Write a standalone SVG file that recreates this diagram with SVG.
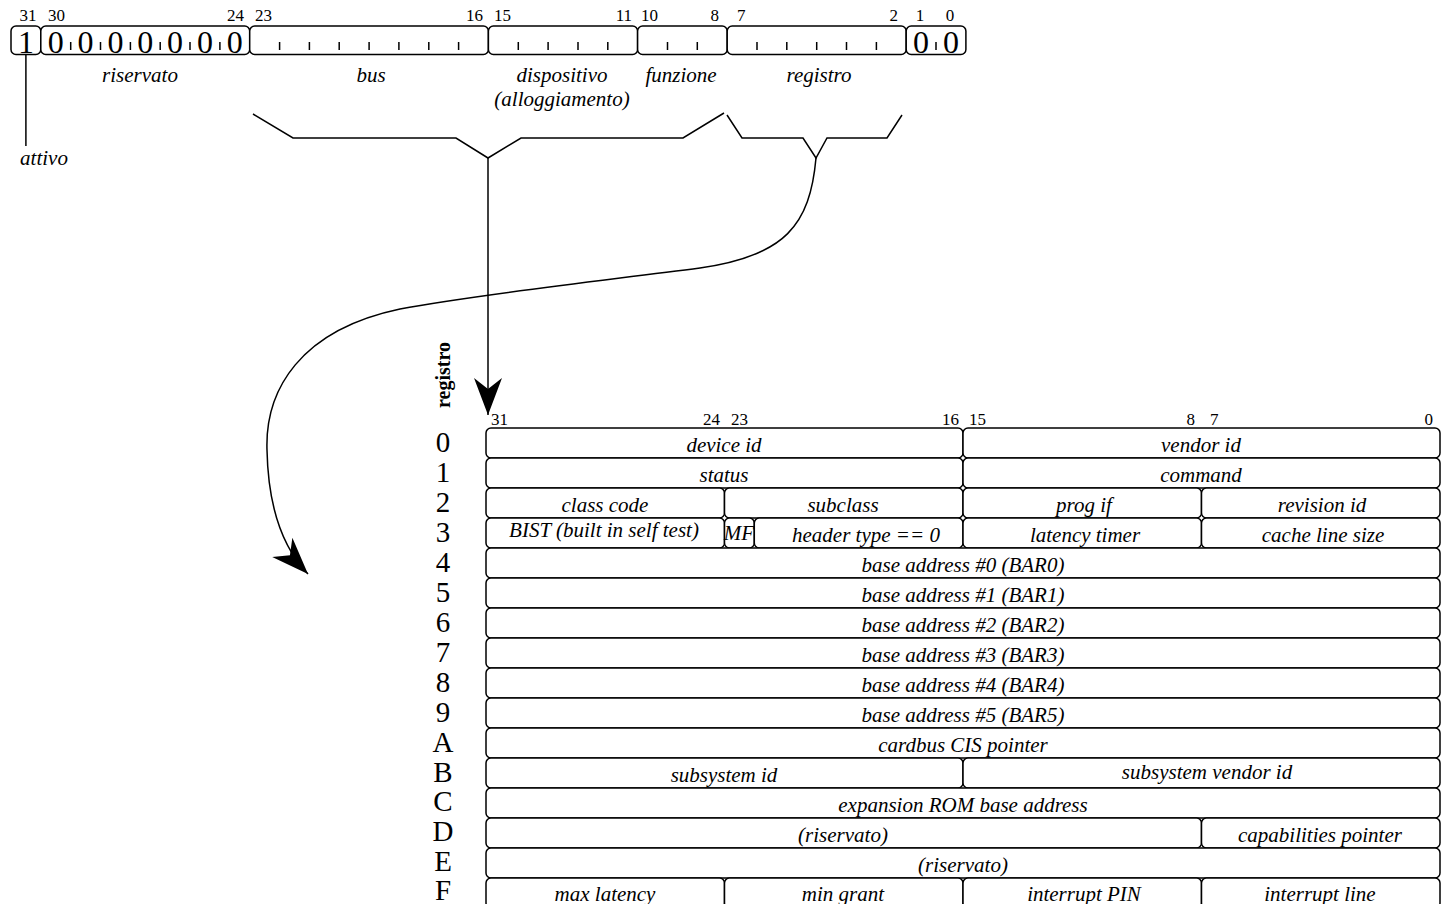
<svg xmlns="http://www.w3.org/2000/svg" width="1446" height="904" viewBox="0 0 1446 904">
<style>
.bx{fill:#fff;stroke:#000;stroke-width:1.5}
.ln{fill:none;stroke:#000;stroke-width:1.5}
text{font-family:"Liberation Serif","Times New Roman",serif;fill:#000}
.it{font-style:italic;font-size:21px;text-anchor:middle}
.n{font-size:17px}
.ne{font-size:17px;text-anchor:end}
.nm{font-size:17px;text-anchor:middle}
.d{font-size:32px;text-anchor:middle}
.r{font-size:29px;text-anchor:middle}
</style>
<defs>
<marker id="ah" markerUnits="userSpaceOnUse" markerWidth="40" markerHeight="32" viewBox="-38 -16 40 32" refX="0" refY="0" orient="auto">
<path d="M0,0 L-37,-14 L-26,0 L-37,14 Z" fill="#000"/>
</marker>
</defs>

<g id="register">
<rect class="bx" x="11" y="26" width="29.8" height="28.5" rx="5"/>
<rect class="bx" x="40.8" y="26" width="208.9" height="28.5" rx="5"/>
<rect class="bx" x="249.7" y="26" width="238.7" height="28.5" rx="5"/>
<rect class="bx" x="488.4" y="26" width="149.2" height="28.5" rx="5"/>
<rect class="bx" x="637.6" y="26" width="89.6" height="28.5" rx="5"/>
<rect class="bx" x="727.2" y="26" width="179" height="28.5" rx="5"/>
<rect class="bx" x="906.2" y="26" width="59.7" height="28.5" rx="5"/>
<path class="ln" d="M70.7,42V50M100.5,42V50M130.4,42V50M160.2,42V50M190,42V50M219.9,42V50M279.6,42V50M309.4,42V50M339.2,42V50M369.1,42V50M398.9,42V50M428.8,42V50M458.6,42V50M518.3,42V50M548.1,42V50M578,42V50M607.8,42V50M667.5,42V50M697.3,42V50M757,42V50M786.8,42V50M816.7,42V50M846.5,42V50M876.4,42V50M936,42V50"/>
<text class="d" x="25.9" y="53">1</text>
<text class="d" x="55.7" y="53">0</text>
<text class="d" x="85.6" y="53">0</text>
<text class="d" x="115.4" y="53">0</text>
<text class="d" x="145.3" y="53">0</text>
<text class="d" x="175.1" y="53">0</text>
<text class="d" x="205" y="53">0</text>
<text class="d" x="234.8" y="53">0</text>
<text class="d" x="921.1" y="53">0</text>
<text class="d" x="951" y="53">0</text>
<text class="nm" x="28" y="21">31</text>
<text class="n" x="48" y="21">30</text>
<text class="ne" x="244" y="21">24</text>
<text class="n" x="255" y="21">23</text>
<text class="ne" x="483" y="21">16</text>
<text class="n" x="494" y="21">15</text>
<text class="ne" x="632" y="21">11</text>
<text class="n" x="641" y="21">10</text>
<text class="ne" x="719" y="21">8</text>
<text class="n" x="737" y="21">7</text>
<text class="ne" x="898" y="21">2</text>
<text class="nm" x="920" y="21">1</text>
<text class="nm" x="950" y="21">0</text>
<text class="it" x="140" y="82">riservato</text>
<text class="it" x="371" y="82">bus</text>
<text class="it" x="562" y="82">dispositivo</text>
<text class="it" x="562" y="106">(alloggiamento)</text>
<text class="it" x="681" y="82">funzione</text>
<text class="it" x="819" y="82">registro</text>
<text class="it" x="44" y="165">attivo</text>
</g>

<g id="connectors">
<path class="ln" d="M25.9,55V146"/>
<path class="ln" d="M253,114L293,138H456L488,158L521,138H683L724,113"/>
<path class="ln" d="M727,115L742,138H803L816,158L827,138H887L902,115"/>
<path class="ln" d="M488,158V415" marker-end="url(#ah)"/>
<path class="ln" d="M816,158C810,225 785,256 700,268C600,281 480,294 400,309C300,330 265,390 267,450C268,500 280,545 308,574" marker-end="url(#ah)"/>
</g>

<g id="table-header">
<text font-size="20" font-weight="bold" text-anchor="middle" transform="translate(450,375) rotate(-90)">registro</text>
<text class="n" x="491" y="425">31</text>
<text class="ne" x="720" y="425">24</text>
<text class="n" x="731" y="425">23</text>
<text class="ne" x="959" y="425">16</text>
<text class="n" x="969" y="425">15</text>
<text class="ne" x="1195" y="425">8</text>
<text class="n" x="1210" y="425">7</text>
<text class="ne" x="1433" y="425">0</text>
</g>

<g id="row-labels">
<text class="r" x="443" y="452">0</text>
<text class="r" x="443" y="482">1</text>
<text class="r" x="443" y="512">2</text>
<text class="r" x="443" y="542">3</text>
<text class="r" x="443" y="572">4</text>
<text class="r" x="443" y="602">5</text>
<text class="r" x="443" y="632">6</text>
<text class="r" x="443" y="662">7</text>
<text class="r" x="443" y="692">8</text>
<text class="r" x="443" y="722">9</text>
<text class="r" x="443" y="752">A</text>
<text class="r" x="443" y="782">B</text>
<text class="r" x="443" y="811">C</text>
<text class="r" x="443" y="841">D</text>
<text class="r" x="443" y="871">E</text>
<text class="r" x="443" y="900">F</text>
</g>

<g id="row0">
<rect class="bx" x="486" y="428" width="477" height="30" rx="5"/>
<rect class="bx" x="963" y="428" width="477" height="30" rx="5"/>
<text class="it" x="724" y="452">device id</text>
<text class="it" x="1201" y="452">vendor id</text>
</g>
<g id="row1">
<rect class="bx" x="486" y="458" width="477" height="30" rx="5"/>
<rect class="bx" x="963" y="458" width="477" height="30" rx="5"/>
<text class="it" x="724" y="482">status</text>
<text class="it" x="1201" y="482">command</text>
</g>
<g id="row2">
<rect class="bx" x="486" y="488" width="238.5" height="30" rx="5"/>
<rect class="bx" x="724.5" y="488" width="238.5" height="30" rx="5"/>
<rect class="bx" x="963" y="488" width="238.5" height="30" rx="5"/>
<rect class="bx" x="1201.5" y="488" width="238.5" height="30" rx="5"/>
<text class="it" x="605" y="512">class code</text>
<text class="it" x="843" y="512">subclass</text>
<text class="it" x="1084" y="512">prog if</text>
<text class="it" x="1322" y="512">revision id</text>
</g>
<g id="row3">
<rect class="bx" x="486" y="518" width="238.5" height="30" rx="5"/>
<rect class="bx" x="724.5" y="518" width="29.8" height="30" rx="5"/>
<rect class="bx" x="754.3" y="518" width="208.7" height="30" rx="5"/>
<rect class="bx" x="963" y="518" width="238.5" height="30" rx="5"/>
<rect class="bx" x="1201.5" y="518" width="238.5" height="30" rx="5"/>
<text class="it" x="604" y="537">BIST (built in self test)</text>
<text class="it" x="739" y="540">MF</text>
<text class="it" x="866" y="542">header type == 0</text>
<text class="it" x="1085" y="542">latency timer</text>
<text class="it" x="1323" y="542">cache line size</text>
</g>
<g id="row4">
<rect class="bx" x="486" y="548" width="954" height="30" rx="5"/>
<text class="it" x="963" y="572">base address #0 (BAR0)</text>
</g>
<g id="row5">
<rect class="bx" x="486" y="578" width="954" height="30" rx="5"/>
<text class="it" x="963" y="602">base address #1 (BAR1)</text>
</g>
<g id="row6">
<rect class="bx" x="486" y="608" width="954" height="30" rx="5"/>
<text class="it" x="963" y="632">base address #2 (BAR2)</text>
</g>
<g id="row7">
<rect class="bx" x="486" y="638" width="954" height="30" rx="5"/>
<text class="it" x="963" y="662">base address #3 (BAR3)</text>
</g>
<g id="row8">
<rect class="bx" x="486" y="668" width="954" height="30" rx="5"/>
<text class="it" x="963" y="692">base address #4 (BAR4)</text>
</g>
<g id="row9">
<rect class="bx" x="486" y="698" width="954" height="30" rx="5"/>
<text class="it" x="963" y="722">base address #5 (BAR5)</text>
</g>
<g id="rowA">
<rect class="bx" x="486" y="728" width="954" height="30" rx="5"/>
<text class="it" x="963" y="752">cardbus CIS pointer</text>
</g>
<g id="rowB">
<rect class="bx" x="486" y="758" width="477" height="30" rx="5"/>
<rect class="bx" x="963" y="758" width="477" height="30" rx="5"/>
<text class="it" x="724" y="782">subsystem id</text>
<text class="it" x="1207" y="779">subsystem vendor id</text>
</g>
<g id="rowC">
<rect class="bx" x="486" y="788" width="954" height="30" rx="5"/>
<text class="it" x="963" y="812">expansion ROM base address</text>
</g>
<g id="rowD">
<rect class="bx" x="486" y="818" width="715.5" height="30" rx="5"/>
<rect class="bx" x="1201.5" y="818" width="238.5" height="30" rx="5"/>
<text class="it" x="843" y="842">(riservato)</text>
<text class="it" x="1320" y="842">capabilities pointer</text>
</g>
<g id="rowE">
<rect class="bx" x="486" y="848" width="954" height="30" rx="5"/>
<text class="it" x="963" y="872">(riservato)</text>
</g>
<g id="rowF">
<rect class="bx" x="486" y="878" width="238.5" height="30" rx="5"/>
<rect class="bx" x="724.5" y="878" width="238.5" height="30" rx="5"/>
<rect class="bx" x="963" y="878" width="238.5" height="30" rx="5"/>
<rect class="bx" x="1201.5" y="878" width="238.5" height="30" rx="5"/>
<text class="it" x="605" y="901">max latency</text>
<text class="it" x="843" y="901">min grant</text>
<text class="it" x="1084" y="901">interrupt PIN</text>
<text class="it" x="1320" y="901">interrupt line</text>
</g>
</svg>
